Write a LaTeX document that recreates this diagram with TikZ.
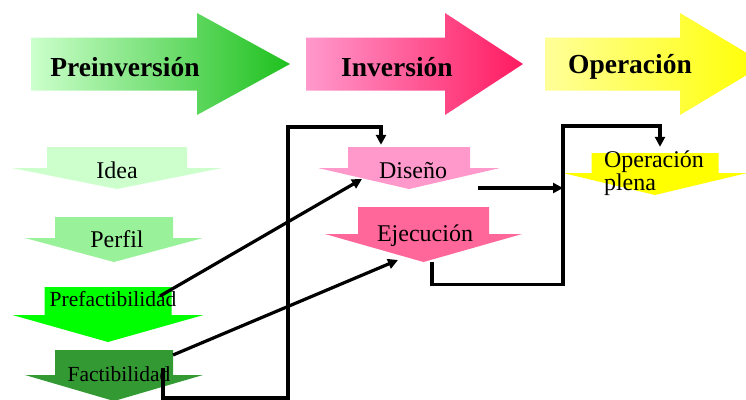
\documentclass[tikz,border=0pt]{standalone}
\usepackage{fontspec}
\setmainfont{Liberation Serif}
\usetikzlibrary{arrows.meta,positioning}

\definecolor{idea}{HTML}{CCFFCC}
\definecolor{perfil}{HTML}{99F299}
\definecolor{prefact}{HTML}{00FF00}
\definecolor{fact}{HTML}{339933}
\definecolor{diseno}{HTML}{FF99CC}
\definecolor{ejec}{HTML}{FF6699}
\definecolor{plena}{HTML}{FFFF00}
\definecolor{invend}{HTML}{FF1A60}
\definecolor{preend}{HTML}{1EC01E}

\newcommand{\phasefont}{\fontsize{27.5}{30}\selectfont\bfseries}
\newcommand{\stepfont}{\fontsize{24}{18}\selectfont}
\newcommand{\smallstepfont}{\fontsize{21.5}{24}\selectfont}

\begin{document}
\begin{tikzpicture}[>={Triangle[length=10pt,width=10pt]}, x=1pt, y=-1pt,
    conn/.style={line width=3.2pt},
    % right-pointing phase arrow: left colour, right colour, length, height, shaft, head
    phase/.style n args={6}{rectangle, inner sep=0pt, minimum width=#3, minimum height=#4,
      font=\phasefont, path picture={
        \path[left color=#1, right color=#2]
          ([yshift=#5/2]path picture bounding box.west)
          -- ([xshift=-#6, yshift=#5/2]path picture bounding box.east)
          -- ([xshift=-#6]path picture bounding box.north east)
          -- (path picture bounding box.east)
          -- ([xshift=-#6]path picture bounding box.south east)
          -- ([xshift=-#6, yshift=-#5/2]path picture bounding box.east)
          -- ([yshift=-#5/2]path picture bounding box.west) -- cycle;}},
    % down-pointing step arrow: colour, width, height, shaft, head
    stepdown/.style n args={5}{rectangle, inner sep=0pt, minimum width=#2, minimum height=#3,
      font=\stepfont, path picture={
        \fill[#1]
          ([xshift=-#4/2]path picture bounding box.north)
          -- ([xshift=#4/2]path picture bounding box.north)
          -- ([xshift=#4/2, yshift=#5]path picture bounding box.south)
          -- ([yshift=#5]path picture bounding box.south east)
          -- (path picture bounding box.south)
          -- ([yshift=#5]path picture bounding box.south west)
          -- ([xshift=-#4/2, yshift=#5]path picture bounding box.south) -- cycle;}}]

  \useasboundingbox (0,0) rectangle (746,399);

  % phases
  \node [phase={green!20!white}{preend}{259pt}{102pt}{53pt}{93pt},
         label={[font=\phasefont, xshift=-35.5pt, yshift=-3pt]center:Preinversión}] (pre) at (160.5,64) {};
  \node [phase={diseno}{invend}{217pt}{102pt}{53pt}{78pt},
         label={[font=\phasefont, xshift=-17.5pt, yshift=-3pt]center:Inversión}] (inv) at (414.5,64) {};
  \node [phase={yellow!40!white}{yellow}{220pt}{102pt}{53pt}{85pt},
         label={[font=\phasefont, xshift=-25pt, yshift=-3pt]center:Operación}] (ope) at (655,64) {};

  % steps
  \node [stepdown={idea}{210pt}{42pt}{140pt}{21pt},
         label={[font=\stepfont, yshift=-2pt]center:Idea}] (idea) at (117,168) {};
  \node [stepdown={perfil}{178pt}{45pt}{118pt}{24pt},
         label={[font=\stepfont, xshift=3pt]center:Perfil}] (perfil) at (114,239.5) {};
  \node [stepdown={prefact}{191pt}{55pt}{127pt}{27pt},
         label={[font=\smallstepfont, xshift=5pt, yshift=15pt]center:Prefactibilidad}] (prefact) at (108,314.5) {};
  \node [stepdown={fact}{178pt}{51pt}{118pt}{26pt},
         label={[font=\smallstepfont, xshift=5pt, yshift=1.5pt]center:Factibilidad}] (fact) at (114,375.5) {};
  \node [stepdown={diseno}{182pt}{42pt}{122pt}{21pt},
         label={[font=\stepfont, xshift=4pt, yshift=-2.5pt]center:Diseño}] (diseno) at (409,168) {};
  \node [stepdown={ejec}{197pt}{55pt}{131pt}{28pt},
         label={[font=\stepfont, xshift=1.5pt, yshift=-1pt]center:Ejecución}] (ejec) at (423.5,234.5) {};
  \node [stepdown={plena}{184pt}{42pt}{127pt}{22pt},
         label={[font=\stepfont, align=left, xshift=-1pt, yshift=1pt]center:Operación\\plena}] (plena) at (655,174) {};

  \coordinate (bus1) at (288,127);
  \coordinate (bus2) at (563,126);
  \coordinate (dout) at ([xshift=69pt, yshift=-20pt]diseno.center);

  % connectors
  \draw [conn, ->] ([xshift=52pt, yshift=18.5pt]prefact.center) -- ([xshift=-47pt, yshift=-11pt]diseno.center);
  \draw [conn, ->] ([xshift=59pt, yshift=20.5pt]fact.center) -- ([xshift=-25.5pt, yshift=-25.5pt]ejec.center);
  \draw [conn, ->] ([xshift=49pt, yshift=7.5pt]fact.center) -- ++(0,30) -| (bus1) -| ([xshift=-28pt, yshift=2pt]diseno.north);
  \draw [conn, ->] ([xshift=8.5pt]ejec.south) -- ++(0,22) -| (bus2) -| ([xshift=5pt, yshift=6pt]plena.north);
  \draw [conn, ->] (dout) -- (dout -| bus2);
\end{tikzpicture}
\end{document}
